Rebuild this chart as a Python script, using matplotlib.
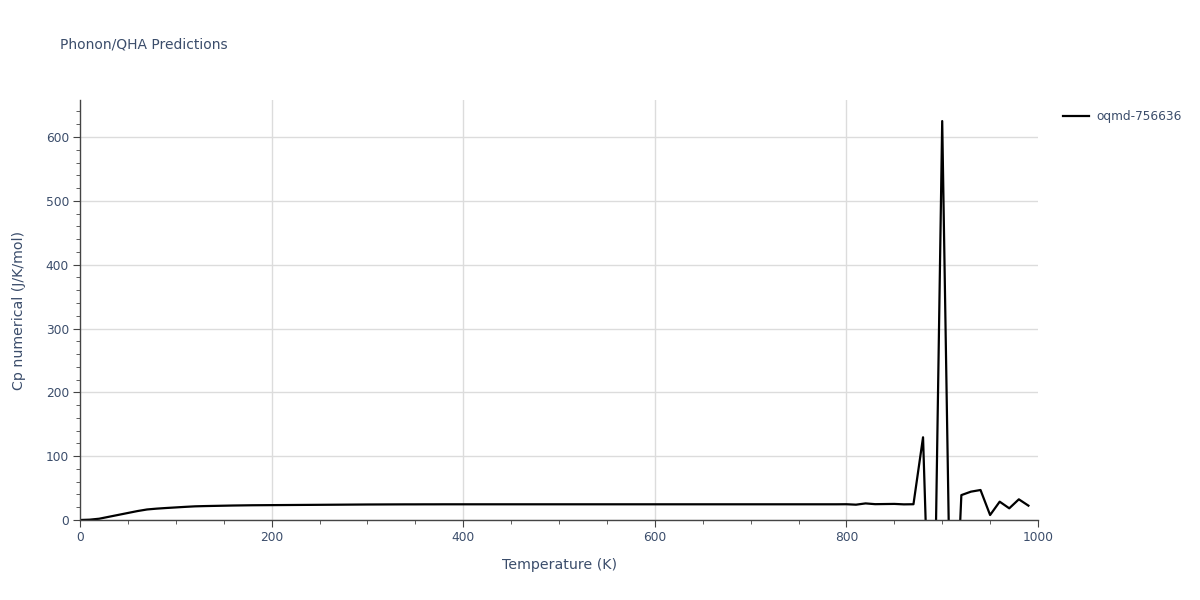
import matplotlib
matplotlib.use("Agg")
import matplotlib.pyplot as plt
from matplotlib.ticker import MultipleLocator

temperature = list(range(0, 1000, 10))
cp_values = [
    0.0, 0.5, 2.0, 5.0, 8.0, 11.0, 14.0, 16.5, 17.8, 18.8,
    19.7, 20.6, 21.4, 21.8, 22.1, 22.4, 22.7, 22.9, 23.1, 23.2,
    23.3, 23.4, 23.5, 23.6, 23.7, 23.8, 23.9, 24.0, 24.1, 24.2,
    24.3, 24.35, 24.4, 24.45, 24.5, 24.5, 24.55, 24.55, 24.6, 24.6,
    24.6, 24.6, 24.6, 24.6, 24.6, 24.6, 24.6, 24.6, 24.6, 24.6,
    24.6, 24.6, 24.6, 24.6, 24.6, 24.6, 24.6, 24.6, 24.6, 24.6,
    24.6, 24.6, 24.6, 24.6, 24.6, 24.6, 24.6, 24.6, 24.6, 24.6,
    24.6, 24.6, 24.6, 24.6, 24.6, 24.6, 24.6, 24.6, 24.6, 24.6,
    24.7, 24.0, 26.0, 24.8, 25.0, 25.2, 24.5, 24.7, 129.6, -350.0,
    625.0, -300.0, 39.0, 44.4, 47.0, 7.8, 28.7, 18.3, 32.4, 22.5,
]
series_name = "oqmd-756636"
title_text = "Phonon/QHA Predictions"
x_label = "Temperature (K)"
y_label = "Cp numerical (J/K/mol)"

plt.rcParams['font.family'] = ['DejaVu Sans']
text_color = "#3b4d6b"

fig = plt.figure(figsize=(12, 6), dpi=100)
ax = fig.add_axes([80 / 1200, 80 / 600, (1038 - 80) / 1200, 420 / 600])

ax.plot(temperature, cp_values, color="black", linewidth=1.6, label=series_name)

ax.set_xlim(0, 1000)
ax.set_ylim(0, 658)
ax.xaxis.set_major_locator(MultipleLocator(200))
ax.xaxis.set_minor_locator(MultipleLocator(50))
ax.yaxis.set_major_locator(MultipleLocator(100))
ax.yaxis.set_minor_locator(MultipleLocator(20))

ax.grid(True, which="major", color="#dcdcdc", linewidth=1.0)
ax.set_axisbelow(True)
for s in ["top", "right"]:
    ax.spines[s].set_visible(False)
for s in ["left", "bottom"]:
    ax.spines[s].set_color("#444444")
    ax.spines[s].set_linewidth(1.0)

ax.tick_params(which="major", direction="out", length=5, color="#444444",
               labelsize=8.8, labelcolor=text_color, pad=3)
ax.tick_params(which="minor", direction="out", length=3, color="#444444")

fig.canvas.draw()
for tick in ax.xaxis.get_major_ticks():
    if abs(tick.get_loc() - 1000) < 1e-6 or abs(tick.get_loc()) < 1e-6:
        tick.gridline.set_visible(False)

ax.set_xlabel(x_label, fontsize=10.2, color=text_color, labelpad=10)
ax.set_ylabel(y_label, fontsize=10.2, color=text_color, labelpad=14)

fig.text(60 / 1200, 1 - 45 / 600, title_text, fontsize=10, color=text_color,
         ha="left", va="center")

ax.legend(loc="upper left", bbox_to_anchor=(1058 / 1200, 1 - 105 / 600),
          bbox_transform=fig.transFigure, frameon=False, fontsize=8.7,
          labelcolor=text_color, handlelength=2.2, handletextpad=0.6,
          borderaxespad=0)

fig.savefig("out.png", dpi=100, facecolor="white")
